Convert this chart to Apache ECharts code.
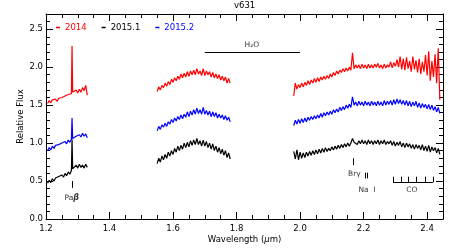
<!DOCTYPE html>
<html>
<head>
<meta charset="utf-8">
<script src="https://cdn.jsdelivr.net/npm/echarts@6/dist/echarts.min.js"></script>
<style>html,body{margin:0;padding:0;background:#fff;}#c{width:457px;height:249px;}</style>
</head>
<body>
<div id="c"></div>
<script>
// wavelength grids (micron)
const wlJ = [1.205,1.21,1.215,1.22,1.225,1.23,1.235,1.24,1.245,1.25,1.255,1.26,1.265,1.27,1.275,1.28,1.282,1.284,1.29,1.295,1.3,1.305,1.31,1.315,1.32,1.325,1.33];
const wlH = [1.55,1.555,1.56,1.565,1.57,1.575,1.58,1.585,1.59,1.595,1.6,1.605,1.61,1.615,1.62,1.625,1.63,1.635,1.64,1.645,1.65,1.655,1.66,1.665,1.67,1.675,1.68,1.685,1.69,1.695,1.7,1.705,1.71,1.715,1.72,1.725,1.73,1.735,1.74,1.745,1.75,1.755,1.76,1.765,1.77,1.775,1.78];
const wlK = [1.98,1.985,1.99,1.995,2.0,2.005,2.01,2.015,2.02,2.025,
  2.03,2.035,2.04,2.045,2.05,2.055,2.06,2.065,2.07,2.075,
  2.08,2.085,2.09,2.095,2.1,2.105,2.11,2.115,2.12,2.125,
  2.13,2.135,2.14,2.145,2.15,2.155,2.16,2.165,2.17,2.175,
  2.18,2.185,2.19,2.195,2.2,2.205,2.21,2.215,2.22,2.225,
  2.23,2.235,2.24,2.245,2.25,2.255,2.26,2.265,2.27,2.275,
  2.28,2.285,2.29,2.295,2.3,2.305,2.31,2.315,2.32,2.325,
  2.33,2.335,2.34,2.345,2.35,2.355,2.36,2.365,2.37,2.375,
  2.38,2.385,2.39,2.395,2.4,2.405,2.41,2.415,2.42,2.425,
  2.43,2.435,2.44];

// 2014 (red)
const red2014J = [1.52,1.56,1.53,1.57,1.55,1.58,1.55,1.59,1.58,1.60,1.59,1.62,1.60,1.64,1.62,1.65,2.28,1.67,1.65,1.70,1.66,1.71,1.67,1.73,1.69,1.76,1.63];
const red2014H = [1.68,1.74,1.70,1.76,1.73,1.79,1.75,1.81,1.77,1.84,1.80,1.86,1.82,1.88,1.84,1.91,1.86,1.92,1.87,1.94,1.88,1.95,1.90,1.96,1.90,1.98,1.91,1.95,1.89,1.98,1.89,1.95,1.90,1.94,1.87,1.93,1.86,1.91,1.85,1.90,1.83,1.88,1.82,1.87,1.79,1.85,1.79];
const red2014K = [1.62,1.79,1.71,1.77,1.73,1.79,1.74,1.80,1.76,1.82,
  1.77,1.83,1.79,1.85,1.80,1.86,1.81,1.87,1.83,1.88,
  1.84,1.89,1.85,1.91,1.87,1.93,1.89,1.95,1.91,1.96,
  1.93,1.98,1.94,1.99,1.95,2.00,1.96,2.19,1.98,2.03,
  1.99,2.03,1.98,2.04,1.99,2.03,1.98,2.04,1.99,2.03,
  1.99,2.04,2.00,2.05,1.99,2.03,1.98,2.04,1.99,2.03,
  2.00,2.07,1.99,2.06,2.01,2.10,2.00,2.14,1.97,2.11,
  1.96,2.13,1.98,2.08,1.94,2.14,1.97,2.09,1.93,2.11,
  1.91,2.07,1.94,2.16,1.89,2.21,1.82,2.08,1.87,2.17,
  1.79,2.25,1.57];

// 2015.1 (black)
const blk2015aJ = [0.47,0.51,0.48,0.53,0.50,0.54,0.53,0.56,0.55,0.58,0.55,0.60,0.57,0.62,0.59,0.64,1.05,0.66,0.68,0.71,0.67,0.72,0.68,0.71,0.67,0.72,0.68];
const blk2015aH = [0.73,0.80,0.75,0.83,0.78,0.85,0.80,0.88,0.83,0.90,0.85,0.93,0.88,0.96,0.90,0.97,0.92,1.00,0.94,1.01,0.95,1.03,0.97,1.04,0.98,1.06,0.98,1.03,0.96,1.04,0.96,1.02,0.94,1.00,0.92,0.99,0.90,0.96,0.88,0.94,0.86,0.92,0.84,0.90,0.81,0.87,0.79];
const blk2015aK = [0.89,0.79,0.91,0.78,0.88,0.80,0.87,0.81,0.88,0.83,
  0.89,0.84,0.90,0.85,0.91,0.86,0.92,0.87,0.93,0.88,
  0.94,0.89,0.93,0.90,0.95,0.91,0.96,0.92,0.97,0.93,
  0.98,0.94,0.99,0.95,1.00,0.96,1.00,1.06,1.01,1.01,
  0.98,1.03,0.99,1.04,0.99,1.03,0.98,1.04,0.99,1.03,
  0.98,1.03,0.99,1.04,0.98,1.03,0.99,1.04,0.98,1.02,
  0.99,1.03,0.97,1.02,0.96,1.01,0.97,1.02,0.95,1.00,
  0.94,1.00,0.95,0.99,0.93,0.98,0.92,0.98,0.93,0.97,
  0.91,0.98,0.90,0.96,0.89,0.97,0.88,0.95,0.90,0.94,
  0.87,0.93,0.85];

// 2015.2 (blue)
const blu2015bJ = [0.90,0.94,0.91,0.96,0.93,0.97,0.96,0.98,0.97,1.00,0.98,1.02,0.99,1.04,1.01,1.05,1.33,1.06,1.06,1.09,1.07,1.11,1.08,1.13,1.09,1.12,1.07];
const blu2015bH = [1.16,1.22,1.18,1.24,1.21,1.26,1.22,1.28,1.25,1.31,1.27,1.33,1.29,1.35,1.31,1.37,1.32,1.38,1.34,1.41,1.35,1.42,1.37,1.44,1.38,1.46,1.39,1.44,1.38,1.47,1.38,1.43,1.37,1.42,1.35,1.41,1.35,1.40,1.33,1.38,1.33,1.37,1.31,1.36,1.30,1.34,1.28];
const blu2015bK = [1.23,1.30,1.25,1.31,1.26,1.32,1.27,1.33,1.28,1.34,
  1.30,1.35,1.31,1.36,1.32,1.37,1.33,1.39,1.34,1.40,
  1.36,1.41,1.37,1.42,1.38,1.44,1.40,1.45,1.41,1.47,
  1.43,1.48,1.44,1.50,1.46,1.51,1.47,1.61,1.50,1.54,
  1.49,1.55,1.50,1.54,1.49,1.55,1.50,1.54,1.49,1.55,
  1.50,1.54,1.49,1.55,1.50,1.54,1.49,1.56,1.50,1.55,
  1.51,1.56,1.50,1.57,1.51,1.58,1.52,1.57,1.51,1.56,
  1.50,1.56,1.49,1.55,1.48,1.54,1.49,1.55,1.47,1.53,
  1.46,1.52,1.47,1.51,1.45,1.51,1.44,1.50,1.43,1.48,
  1.41,1.47,1.39];

// axis ticks
const xMin = 1.2, xMax = 2.45, xMajor = 0.2, xMinor = 0.05;
const yMin = 0, yMax = 2.7, yMajor = 0.5, yMinor = 0.1;

// annotation features (data coordinates)
const h2oBar = [[1.70, 2.2], [2.0, 2.2]];
const pabTick = [[1.282, 0.41], [1.282, 0.50]];
const brgTick = [[2.166, 0.71], [2.166, 0.80]];
const naX = [2.2065, 2.2115], naY = [0.535, 0.61];
const coX = [2.293, 2.318, 2.342, 2.367, 2.393, 2.418], coY = [0.483, 0.557];
const labels = [
  {name: 'H₂O', x: 1.848, y: 2.29},
  {name: 'Pa{b|β}', x: 1.281, y: 0.277},
  {name: 'Brγ', x: 2.171, y: 0.59},
  {name: 'Na  I', x: 2.211, y: 0.38},
  {name: 'CO', x: 2.352, y: 0.38}
];

const FONT = 'DejaVu Sans';
const pairs = (xs, ys) => xs.map((x, i) => [x, ys[i]]);

function spec(name, color, xs, ys) {
  return {type: 'line', name, data: pairs(xs, ys), showSymbol: false, symbol: 'none',
    lineStyle: {width: 1.2, color}, itemStyle: {color}, silent: true};
}

const seg = (a, b) => [{coord: a}, {coord: b}];
const markSegs = [seg(h2oBar[0], h2oBar[1]), seg(pabTick[0], pabTick[1]), seg(brgTick[0], brgTick[1])];
naX.forEach(x => markSegs.push(seg([x, naY[0]], [x, naY[1]])));
markSegs.push(seg([coX[0], coY[0]], [coX[coX.length - 1], coY[0]]));
coX.forEach(x => markSegs.push(seg([x, coY[0]], [x, coY[1]])));

function majorX(pos, labels) {
  return {type: 'value', position: pos, min: xMin, max: xMax, interval: xMajor, gridIndex: 0,
    axisLine: {show: true, onZero: false, lineStyle: {color: '#000', width: 1}},
    axisTick: {show: true, inside: true, length: 7, lineStyle: {color: '#000'}},
    axisLabel: {show: labels, margin: 5, color: '#000', fontSize: 8.5, fontFamily: FONT, showMaxLabel: false,
      formatter: v => v.toFixed(1)},
    splitLine: {show: false}};
}
function minorX(pos) {
  return {type: 'value', position: pos, min: xMin, max: xMax, interval: xMinor, gridIndex: 0,
    axisLine: {show: false, onZero: false},
    axisTick: {show: true, inside: true, length: 4, lineStyle: {color: '#000'}},
    axisLabel: {show: false}, splitLine: {show: false}};
}
function majorY(pos, labels) {
  return {type: 'value', position: pos, min: yMin, max: yMax, interval: yMajor, gridIndex: 0,
    axisLine: {show: true, onZero: false, lineStyle: {color: '#000', width: 1}},
    axisTick: {show: true, inside: true, length: 7, lineStyle: {color: '#000'}},
    axisLabel: {show: labels, margin: 3, color: '#000', fontSize: 8.5, fontFamily: FONT, showMaxLabel: false,
      formatter: v => v.toFixed(1)},
    splitLine: {show: false}};
}
function minorY(pos) {
  return {type: 'value', position: pos, min: yMin, max: yMax, interval: yMinor, gridIndex: 0,
    axisLine: {show: false, onZero: false},
    axisTick: {show: true, inside: true, length: 4, lineStyle: {color: '#000'}},
    axisLabel: {show: false}, splitLine: {show: false}};
}

const xMain = majorX('bottom', true);
xMain.name = 'Wavelength ({i|μ}m)';
xMain.nameLocation = 'middle';
xMain.nameGap = 16;
xMain.nameMoveOverlap = false;
xMain.nameTextStyle = {color: '#000', fontSize: 8.5, fontFamily: FONT,
  rich: {i: {fontStyle: 'italic', fontSize: 8.5, fontFamily: FONT, color: '#000'}}};
const yMain = majorY('left', true);
yMain.name = 'Relative Flux';
yMain.nameLocation = 'middle';
yMain.nameGap = 21;
yMain.nameMoveOverlap = false;
yMain.nameTextStyle = {color: '#000', fontSize: 8.5, fontFamily: FONT};

const series = [
  spec('2014', '#ff0000', wlJ, red2014J), spec('2014', '#ff0000', wlH, red2014H), spec('2014', '#ff0000', wlK, red2014K),
  spec('2015.1', '#000000', wlJ, blk2015aJ), spec('2015.1', '#000000', wlH, blk2015aH), spec('2015.1', '#000000', wlK, blk2015aK),
  spec('2015.2', '#0000ff', wlJ, blu2015bJ), spec('2015.2', '#0000ff', wlH, blu2015bH), spec('2015.2', '#0000ff', wlK, blu2015bK),
  {type: 'line', name: 'features', data: [], silent: true,
    markLine: {silent: true, symbol: ['none', 'none'], animation: false, label: {show: false},
      lineStyle: {color: '#000', width: 1, type: 'solid'}, emphasis: {disabled: true}, data: markSegs}},
  {type: 'scatter', name: 'labels', silent: true, symbolSize: 1, itemStyle: {color: 'rgba(0,0,0,0)'},
    data: labels.map(l => ({value: [l.x, l.y], label: {show: true, position: 'inside', formatter: l.name,
      color: '#000', fontSize: 7.5, fontFamily: FONT,
      rich: {b: {fontStyle: 'italic', fontWeight: 'bold', fontSize: 8, fontFamily: FONT, color: '#000'}}}}))}
];

const chart = echarts.init(document.getElementById('c'), null, {renderer: 'canvas'});
chart.setOption({
  animation: false,
  backgroundColor: '#fff',
  title: {text: 'v631', left: 234, top: 1, padding: 0,
    textStyle: {color: '#000', fontSize: 8.5, fontWeight: 'normal', fontFamily: FONT}},
  legend: {data: [
      {name: '2014', textStyle: {color: '#ff0000'}},
      {name: '2015.1', textStyle: {color: '#000000'}},
      {name: '2015.2', textStyle: {color: '#0000ff'}}],
    left: 56, top: 23, padding: 0, icon: 'rect', itemWidth: 4, itemHeight: 1.5, itemGap: 15,
    selectedMode: false, textStyle: {fontSize: 8.5, fontFamily: FONT}},
  grid: {left: 46, right: 14, top: 14, bottom: 30, containLabel: false},
  xAxis: [xMain, minorX('bottom'), majorX('top', false), minorX('top')],
  yAxis: [yMain, minorY('left'), majorY('right', false), minorY('right')],
  series
});
</script>
</body>
</html>
